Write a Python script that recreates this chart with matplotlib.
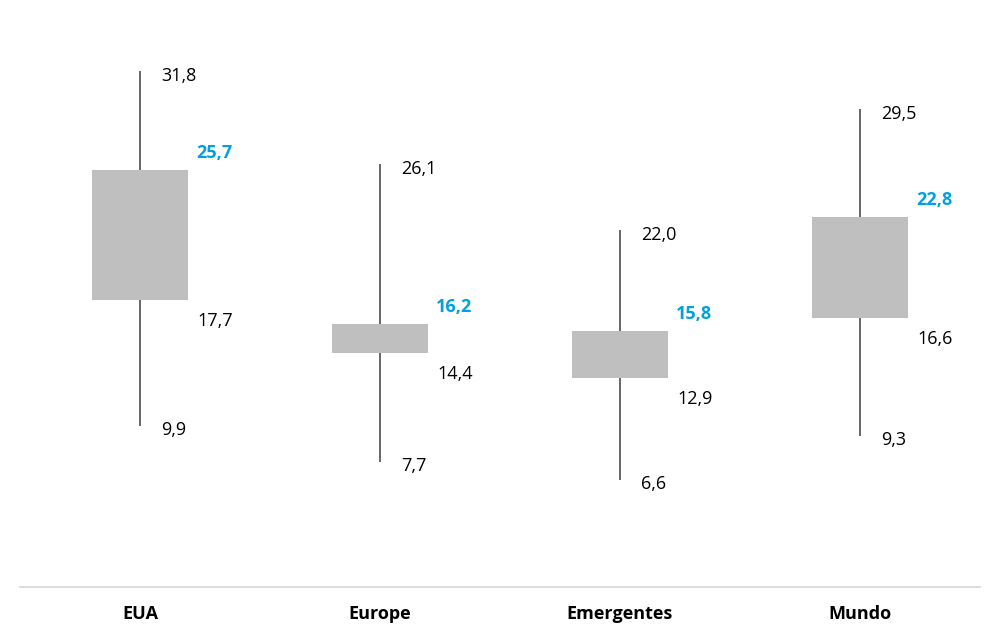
import matplotlib.pyplot as plt
import numpy as np

plt.rcParams['font.family'] = ['Open Sans', 'DejaVu Sans']

# data
regions = ["EUA", "Europe", "Emergentes", "Mundo"]
maxVals = [31.8, 26.1, 22.0, 29.5]
currentVals = [25.7, 16.2, 15.8, 22.8]
lowVals = [17.7, 14.4, 12.9, 16.6]
minVals = [9.9, 7.7, 6.6, 9.3]

boxColor = "#BFBFBF"
lineColor = "#5A5A5A"
blue = "#00A0E3"

fig = plt.figure(figsize=(10, 6.39), dpi=100)
ax = fig.add_axes([0.02, (639 - 587) / 639, 0.96, 587 / 639])

x = np.arange(len(regions))
boxWidth = 0.4

# whiskers behind the boxes
ax.vlines(x, minVals, maxVals, color=lineColor, linewidth=1.3, zorder=1)
heights = [c - l for c, l in zip(currentVals, lowVals)]
ax.bar(x, heights, bottom=lowVals, width=boxWidth, color=boxColor, zorder=2)

px = 0.72  # points per pixel
for i in range(len(regions)):
    ax.annotate(f"{maxVals[i]:.1f}".replace(".", ","), (x[i], maxVals[i]),
                xytext=(21 * px, -5 * px), textcoords="offset points",
                ha="left", va="center", fontsize=13, color="black")
    ax.annotate(f"{currentVals[i]:.1f}".replace(".", ","), (x[i], currentVals[i]),
                xytext=(56 * px, 17 * px), textcoords="offset points",
                ha="left", va="center", fontsize=13, color=blue, fontweight="bold")
    ax.annotate(f"{lowVals[i]:.1f}".replace(".", ","), (x[i], lowVals[i]),
                xytext=(57 * px, -21 * px), textcoords="offset points",
                ha="left", va="center", fontsize=13, color="black")
    ax.annotate(f"{minVals[i]:.1f}".replace(".", ","), (x[i], minVals[i]),
                xytext=(21 * px, -4 * px), textcoords="offset points",
                ha="left", va="center", fontsize=13, color="black")

ax.set_xlim(-0.5, len(regions) - 0.5)
ax.set_ylim(0, 36.2)
ax.set_xticks(x)
ax.set_xticklabels(regions, fontsize=13, fontweight="bold")
ax.tick_params(axis="x", length=0, pad=13)
ax.set_yticks([])
for side in ["top", "left", "right"]:
    ax.spines[side].set_visible(False)
ax.spines["bottom"].set_color("#D9D9D9")
ax.spines["bottom"].set_linewidth(1.3)

fig.savefig("out.png", dpi=100)
